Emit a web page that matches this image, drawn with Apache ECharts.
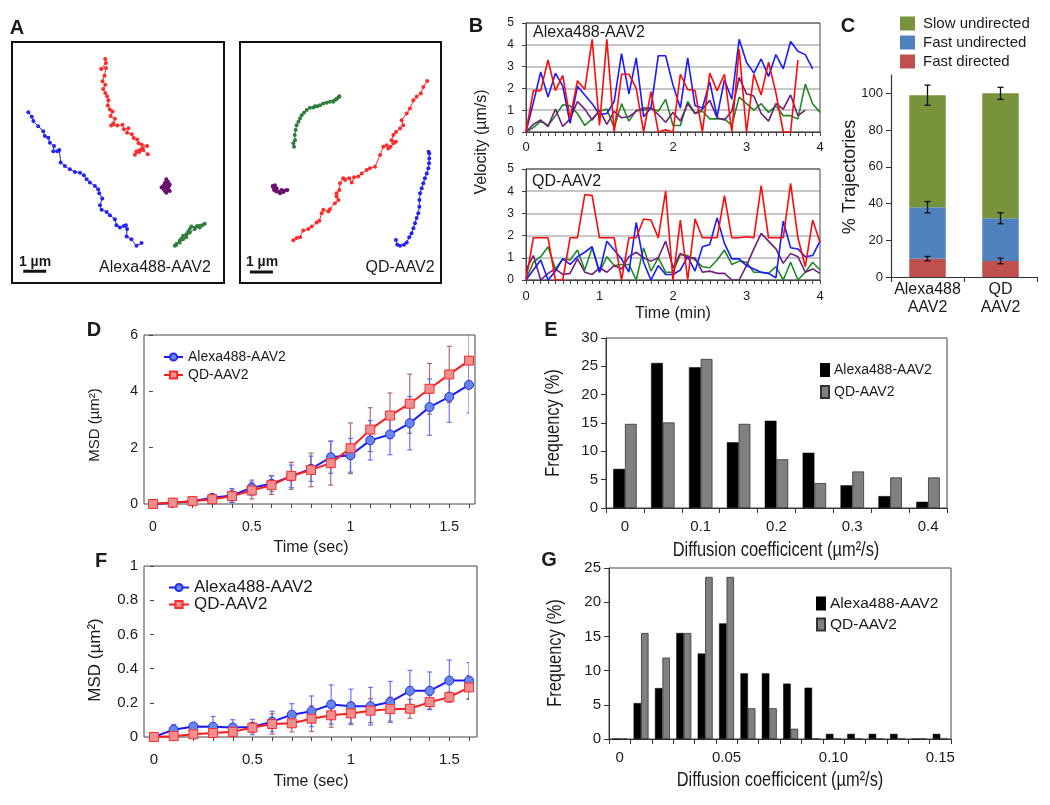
<!DOCTYPE html>
<html><head><meta charset="utf-8">
<script src="https://cdn.jsdelivr.net/npm/echarts@6/dist/echarts.min.js"></script>
<style>html,body{margin:0;padding:0;background:#fff}#c{width:1050px;height:805px}</style>
</head><body><div id="c"></div>
<script>
// ---------------- DATA ----------------
// Panel A: trajectories (µm, origin = lower-left corner of each box)
const a1Red = [[4.06,9.77],[4.09,9.59],[3.88,9.33],[4.09,9.38],[4.03,9.04],[3.94,8.80],[4.06,8.65],[3.97,8.46],[4.06,8.29],[4.14,8.14],[4.20,7.97],[4.17,7.74],[4.26,7.57],[4.38,7.48],[4.29,7.28],[4.48,7.16],[4.41,6.96],[4.32,6.87],[4.58,6.87],[4.81,6.90],[4.87,6.70],[5.07,6.75],[5.01,6.55],[5.22,6.49],[5.30,6.32],[5.45,6.26],[5.51,6.09],[5.65,6.03],[5.88,5.97],[5.68,5.88],[5.57,5.80],[5.42,5.75],[5.35,5.59],[5.54,5.71],[5.71,5.80],[5.91,5.62]];
const a1Blue = [[0.71,7.45],[0.86,7.25],[0.93,7.06],[1.14,6.84],[1.36,6.62],[1.43,6.41],[1.58,6.33],[1.65,6.12],[1.83,5.97],[1.80,5.75],[1.97,5.75],[2.06,5.80],[2.12,5.25],[2.30,5.10],[2.52,4.96],[2.74,4.84],[2.96,4.81],[3.13,4.70],[3.25,4.52],[3.39,4.38],[3.61,4.23],[3.75,4.09],[3.80,3.91],[3.93,3.68],[3.83,3.39],[3.90,3.19],[4.12,3.10],[4.26,2.96],[4.48,2.78],[4.55,2.52],[4.70,2.42],[4.87,2.49],[4.96,2.52],[5.01,2.35],[4.99,2.03],[5.20,1.91],[5.42,1.62],[5.64,1.74]];
const a1Purple = [[6.72,4.52],[6.80,4.41],[6.65,4.35],[6.87,4.30],[6.58,4.23],[6.72,4.16],[6.51,4.16],[6.80,4.09],[6.65,4.01],[6.87,4.01],[6.72,3.94],[6.61,4.09],[6.84,4.23],[6.70,4.41],[6.77,4.20]];
const a1Green = [[7.09,1.62],[7.16,1.70],[7.30,1.84],[7.38,1.94],[7.45,2.06],[7.59,2.13],[7.67,2.23],[7.74,2.35],[7.81,2.46],[7.96,2.41],[8.06,2.49],[8.17,2.42],[8.28,2.52],[8.39,2.58],[8.17,2.49],[7.96,2.35],[7.74,2.20],[7.59,1.99],[7.45,1.91],[7.30,1.77],[7.13,1.65]];
const a2Green = [[2.35,5.94],[2.32,6.09],[2.39,6.23],[2.38,6.45],[2.42,6.67],[2.46,6.88],[2.54,7.03],[2.61,7.17],[2.68,7.32],[2.78,7.42],[2.90,7.54],[3.04,7.64],[3.19,7.65],[3.26,7.71],[3.36,7.71],[3.48,7.75],[3.62,7.83],[3.77,7.86],[3.91,7.90],[4.06,7.94],[4.17,8.00],[4.28,8.09],[4.32,8.14],[4.20,8.04],[4.06,7.90]];
const a2Red = [[2.32,1.86],[2.46,1.96],[2.61,2.00],[2.75,2.29],[2.97,2.35],[3.12,2.46],[3.33,2.64],[3.45,2.72],[3.55,3.04],[3.62,3.19],[3.84,3.12],[3.91,3.22],[4.13,3.48],[4.28,3.62],[4.20,3.77],[4.20,3.91],[4.32,4.06],[4.35,4.35],[4.49,4.57],[4.57,4.49],[4.75,4.57],[4.86,4.38],[4.96,4.61],[5.14,4.64],[5.29,4.78],[5.51,4.93],[5.65,5.00],[5.87,5.07],[6.09,5.58],[6.23,5.94],[6.38,6.01],[6.45,5.87],[6.55,5.94],[6.67,6.09],[6.78,6.16],[6.59,6.23],[6.67,6.45],[6.78,6.59],[6.96,6.74],[7.10,6.88],[7.03,7.10],[7.25,7.39],[7.39,7.61],[7.54,7.97],[7.68,8.12],[7.86,8.26],[7.97,8.55],[8.14,8.81]];
const a2Blue = [[6.78,1.88],[6.84,1.67],[6.96,1.62],[7.13,1.67],[7.25,1.77],[7.36,2.00],[7.46,2.17],[7.54,2.39],[7.61,2.61],[7.68,2.83],[7.75,3.04],[7.80,3.33],[7.80,3.62],[7.83,3.91],[7.90,4.13],[7.97,4.35],[8.04,4.57],[8.12,4.78],[8.19,5.00],[8.22,5.22],[8.23,5.43],[8.23,5.65],[8.20,5.72]];
const a2Purple = [[1.42,4.23],[1.52,4.26],[1.59,4.13],[1.48,4.06],[1.67,3.99],[1.81,4.06],[1.96,4.03],[2.06,4.06],[1.88,3.97],[1.74,3.91],[1.57,3.99],[1.45,4.16]];
const scaleBarLength = 1; // µm

// Panel B: velocity (µm/s) vs time (min)
const bTime = [0,0.1,0.2,0.3,0.4,0.5,0.6,0.7,0.8,0.9,1.0,1.1,1.2,1.3,1.4,1.5,1.6,1.7,1.8,1.9,2.0,2.1,2.2,2.3,2.4,2.5,2.6,2.7,2.8,2.9,3.0,3.1,3.2,3.3,3.4,3.5,3.6,3.7,3.8,3.9,4.0];
const bTopRed = [0,1.9,1.9,3.3,1.9,2.6,0.6,2.35,1.95,4.25,0.3,4.25,0,2.65,2.65,2.0,0,1.85,0,0.1,0,2.65,1.95,1.9,0,2.7,1.9,2.65,0,3.8,0,2.65,1.7,3.2,1.8,0,0,3.3];
const bTopBlue = [0,1.35,2.75,1.6,2.7,2.1,0.4,2.1,1.7,1.3,0.8,0.85,1.4,3.6,1.75,3.4,0.7,1.1,3.5,3.5,2.15,1.1,3.4,1.2,1.1,2.3,0.7,2.4,1.5,4.25,3.2,2.7,3.35,2.55,3.55,2.9,4.15,3.7,3.55,2.9];
const bTopGreen = [0,0.2,0.5,0.3,0.75,1.25,1.2,0.85,0.3,0.6,0.95,1.05,0.2,1.3,0.5,1.0,1.0,1.1,0.95,1.5,0.3,0.3,1.4,0.85,0.95,0.6,0.6,0.6,0.3,1.6,1.3,1.0,1.3,0.9,1.2,0.75,0.75,0.6,2.2,1.3,0.9];
const bTopPurple = [0,0.35,0.55,0.25,1.05,0.25,0.6,1.4,1.05,0.55,1.0,0.35,0.95,0.65,0.7,0.95,1.1,1.1,0.8,0.45,0.9,0.5,1.3,0.85,1.05,1.45,0.65,0.55,0.95,2.5,1.75,1.65,0.85,0.5,1.3,1.05,1.7,0.75,1.0];
const bBotRed = [0,1.9,1.9,1.9,0,0,1.9,1.9,3.85,3.8,1.9,1.9,1.9,0,1.9,1.9,2.75,2.7,1.9,4.0,0,2.7,0,2.75,1.9,1.9,1.9,3.8,1.9,1.9,1.95,1.9,4.25,1.9,1.9,1.9,4.35,1.9,0.6,2.7,1.7];
const bBotBlue = [0,0.45,0.9,0,0.4,0.95,0.7,1.05,1.25,1.5,0.35,1.75,1.35,0.95,0.35,2.6,0.8,0,0.65,0.25,0.25,0.45,1.05,0.4,1.5,1.6,2.8,1.65,0.95,0.95,0.65,0.5,0.35,0.3,0.1,2.65,1.45,1.4,1.05,1.1,1.75];
const bBotGreen = [0,0.8,1.05,1.5,0.5,0.95,0.9,1.35,0.45,1.45,0.35,1.05,0.65,0.7,0.7,0,1.45,0.4,1.0,0.35,0.35,1.15,1.1,0.9,0.6,0.55,0.9,1.35,0.7,0.85,0.8,0.35,0.35,0.3,0.6,0,0.8,0,0.35,0.8,0.45];
const bBotPurple = [0.45,1.1,0,0.3,0.5,0.25,0.3,0.95,0.35,0.25,0.55,0.35,0.65,0.5,1.05,1.25,1.0,0.85,1.0,1.75,0.55,1.2,1.0,1.0,0.35,0.4,0.3,0.3,0,0,0.65,1.4,2.1,1.75,1.4,0.75,1.2,1.05,0.35,0.5,0.3];

// Panel C: % trajectories (stacked)
const cCats = ['Alexa488\nAAV2', 'QD\nAAV2'];
const cFastDirected = [10, 8.7];
const cFastUndirected = [28, 23.3];
const cSlowUndirected = [61, 68];
const cErrFastDirected = [1.2, 1.5];
const cErrFastUndirected = [3.1, 3.0];
const cErrSlowUndirected = [5.5, 3.3];
const cTicks = [0, 20, 40, 60, 80, 100];

// Panels D / F: MSD vs time (sec)
const dfTime = [0,0.1,0.2,0.3,0.4,0.5,0.6,0.7,0.8,0.9,1.0,1.1,1.2,1.3,1.4,1.5,1.6];
const dAlexa = [0,0.04,0.1,0.22,0.3,0.58,0.72,0.98,1.25,1.66,1.73,2.26,2.47,2.87,3.44,3.8,4.23];
const dAlexaErr = [0,0.02,0.05,0.12,0.25,0.27,0.28,0.4,0.45,0.57,0.6,0.7,0.72,0.95,1.0,0.9,1.0];
const dQD = [0,0.05,0.1,0.17,0.28,0.48,0.67,1.0,1.21,1.45,1.98,2.64,3.14,3.56,4.09,4.6,5.09];
const dQDErr = [0,0.02,0.04,0.12,0.22,0.3,0.33,0.48,0.6,0.78,0.9,0.78,0.8,1.05,0.9,1.0,1.0];
const fAlexa = [0,0.043,0.062,0.06,0.056,0.058,0.09,0.13,0.15,0.19,0.18,0.18,0.205,0.27,0.27,0.33,0.33];
const fAlexaErr = [0,0.03,0.02,0.06,0.045,0.045,0.06,0.065,0.09,0.115,0.1,0.11,0.12,0.12,0.11,0.12,0.105];
const fQD = [0,0.005,0.016,0.023,0.03,0.055,0.076,0.08,0.107,0.127,0.138,0.154,0.163,0.165,0.204,0.233,0.29];
const fQDErr = [0,0.01,0.01,0.015,0.02,0.03,0.06,0.05,0.075,0.07,0.065,0.07,0.07,0.055,0.04,0.03,0.07];
const dfLabelTicks = [0, 0.5, 1, 1.5];

// Panels E / G: frequency (%) histograms
const eBins = ['0','0.05','0.1','0.15','0.2','0.25','0.3','0.35','0.4'];
const eAlexa = [6.9,25.6,24.85,11.6,15.4,9.75,4.0,2.1,1.1];
const eQD = [14.85,15.1,26.3,14.85,8.6,4.4,6.45,5.4,5.4];
const gBins = ['0','0.01','0.02','0.03','0.04','0.05','0.06','0.07','0.08','0.09','0.10','0.11','0.12','0.13','0.14','0.15'];
const gAlexa = [0,5.25,7.45,15.5,12.5,16.9,9.6,9.6,8.1,7.5,0.75,0.75,0.75,0.75,0,0.75];
const gQD = [0,15.5,11.9,15.5,23.7,23.7,4.5,4.5,1.5,0,0,0,0,0,0,0];

// ---------------- BUILD ----------------
const FONT = "'Liberation Sans', Arial, sans-serif";
const TXT = '#1a1a1a';

function pair(xs, ys) { return ys.map((v, i) => [xs[i], v]); }
function errData(xs, m, e) { return m.map((v, i) => [xs[i], v - e[i], v + e[i]]); }
function makeErr(color, cap, width) {
  return function (params, api) {
    const x = api.value(0), lo = api.value(1), hi = api.value(2);
    const a = api.coord([x, hi]), b = api.coord([x, lo]);
    const st = { stroke: color, lineWidth: width };
    return { type: 'group', children: [
      { type: 'line', shape: { x1: a[0], y1: a[1], x2: b[0], y2: b[1] }, style: st },
      { type: 'line', shape: { x1: a[0] - cap, y1: a[1], x2: a[0] + cap, y2: a[1] }, style: st },
      { type: 'line', shape: { x1: b[0] - cap, y1: b[1], x2: b[0] + cap, y2: b[1] }, style: st }
    ] };
  };
}

const grid = [
  { left: 12, top: 42, width: 212, height: 241, show: true, borderColor: '#111', borderWidth: 2 },   // 0 A1
  { left: 240, top: 42, width: 201, height: 241, show: true, borderColor: '#111', borderWidth: 2 },  // 1 A2
  { left: 526, top: 23, width: 294, height: 109, show: true, borderColor: '#444', borderWidth: 1, z: 1 }, // 2 B top
  { left: 526, top: 169, width: 294, height: 111, show: true, borderColor: '#444', borderWidth: 1, z: 1 }, // 3 B bot
  { left: 891, top: 75, width: 146, height: 202 },  // 4 C
  { left: 144, top: 335, width: 331, height: 169, show: true, borderColor: '#444', borderWidth: 1 }, // 5 D frame
  { left: 153, top: 335, width: 316, height: 169 }, // 6 D data
  { left: 144, top: 566, width: 333, height: 171, show: true, borderColor: '#444', borderWidth: 1 }, // 7 F frame
  { left: 154, top: 566, width: 315, height: 171 }, // 8 F data
  { left: 606, top: 338, width: 341, height: 170, show: true, borderColor: '#444', borderWidth: 1 }, // 9 E
  { left: 609, top: 568, width: 342, height: 171, show: true, borderColor: '#444', borderWidth: 1 }  // 10 G
];

const hidden = (g, min, max) => ({ gridIndex: g, type: 'value', min: min, max: max, show: false });
const tickStyle = { show: true, length: 4, lineStyle: { color: '#444' } };

const bX = (g, margin) => ({ gridIndex: g, type: 'value', min: 0, max: 4, interval: 1,
  axisLine: { show: true, lineStyle: { color: '#444' } }, axisTick: tickStyle,
  minorTick: { show: true, splitNumber: 10, length: 4, lineStyle: { color: '#444' } },
  splitLine: { show: false },
  axisLabel: { fontSize: 13, color: TXT, fontFamily: FONT, margin: margin } });
const bY = (g) => ({ gridIndex: g, type: 'value', min: 0, max: 5, interval: 1,
  axisLine: { show: true, lineStyle: { color: '#444' } }, axisTick: tickStyle,
  splitLine: { show: true, lineStyle: { color: '#b4b4b4', width: 1.5 } },
  axisLabel: { fontSize: 12, color: TXT, fontFamily: FONT, margin: 12 } });

const dfX = (g, margin, fs) => ({ gridIndex: g, type: 'value', min: 0, max: 1.6, interval: 0.1,
  axisLine: { show: false }, axisTick: tickStyle, splitLine: { show: false },
  axisLabel: { fontSize: fs, color: TXT, fontFamily: FONT, margin: margin, customValues: dfLabelTicks,
    formatter: v => String(v) } });
const dfY = (g, max, interval, offset, fs) => ({ gridIndex: g, type: 'value', min: 0, max: max, interval: interval, offset: offset,
  axisLine: { show: false }, axisTick: tickStyle, splitLine: { show: false },
  axisLabel: { fontSize: fs, color: TXT, fontFamily: FONT, margin: 6 } });

const catX = (g, data, labelInterval) => ({ gridIndex: g, type: 'category', data: data,
  axisLine: { show: true, lineStyle: { color: '#333' } },
  axisTick: { show: true, interval: 0, alignWithLabel: false, length: 5, lineStyle: { color: '#333' } },
  axisLabel: { interval: labelInterval, fontSize: 15, color: TXT, fontFamily: FONT, margin: 11 } });
const freqY = (g, max) => ({ gridIndex: g, type: 'value', min: 0, max: max, interval: 5,
  axisLine: { show: true, lineStyle: { color: '#333' } }, axisTick: { show: true, length: 5, lineStyle: { color: '#333' } },
  splitLine: { show: false },
  axisLabel: { fontSize: 15, color: TXT, fontFamily: FONT, margin: 8 } });

const xAxis = [
  hidden(0, 0, 9.23), hidden(1, 0, 8.74),
  bX(2, 9), bX(3, 10),
  { gridIndex: 4, type: 'category', data: cCats,
    axisLine: { show: true, lineStyle: { color: '#333', width: 1.2 } },
    axisTick: { show: true, alignWithLabel: false, length: 5, lineStyle: { color: '#333' } },
    axisLabel: { interval: 0, fontSize: 16, lineHeight: 18, color: TXT, fontFamily: FONT, margin: 4 } },
  hidden(5, 0, 1), dfX(6, 16, 14),
  hidden(7, 0, 1), dfX(8, 15, 15),
  catX(9, eBins, 1), catX(10, gBins, 4)
];
const yAxis = [
  hidden(0, 0, 10.51), hidden(1, 0, 10.51),
  bY(2), bY(3),
  { gridIndex: 4, type: 'value', min: 0, max: 110,
    axisLine: { show: true, lineStyle: { color: '#333', width: 1.2 } },
    axisTick: { show: true, length: 5, customValues: cTicks, lineStyle: { color: '#333' } },
    splitLine: { show: false },
    axisLabel: { fontSize: 13, color: TXT, fontFamily: FONT, margin: 8, customValues: cTicks } },
  hidden(5, 0, 1), dfY(6, 6, 2, 9, 14),
  hidden(7, 0, 1), dfY(8, 1, 0.2, 10, 15),
  freqY(9, 30), freqY(10, 25)
];

const series = [];
// A
function traj(xi, data, color) {
  series.push({ type: 'line', xAxisIndex: xi, yAxisIndex: xi, data: data, symbol: 'circle', symbolSize: 4,
    showSymbol: true, lineStyle: { color: color, width: 1 }, itemStyle: { color: color }, silent: true });
}
traj(0, a1Red, '#ff2a2a'); traj(0, a1Blue, '#2323f5'); traj(0, a1Purple, '#6a1070'); traj(0, a1Green, '#2f7d3a');
traj(1, a2Green, '#2f7d3a'); traj(1, a2Red, '#ff2a2a'); traj(1, a2Blue, '#2323f5'); traj(1, a2Purple, '#6a1070');
// scale bars (1 µm)
const scaleBarAt = [[0.49, 0.51], [0.43, 0.48]];
[0, 1].forEach(i => {
  const s = scaleBarAt[i];
  series.push({ type: 'line', xAxisIndex: i, yAxisIndex: i, data: [s, [s[0] + scaleBarLength, s[1]]],
    showSymbol: false, lineStyle: { color: '#111', width: 3 }, silent: true });
});
// B
function vel(xi, vals, color) {
  series.push({ type: 'line', xAxisIndex: xi, yAxisIndex: xi, data: pair(bTime, vals), showSymbol: false,
    lineStyle: { color: color, width: 1.6 }, silent: true, z: 3 });
}
vel(2, bTopGreen, '#1f8a25'); vel(2, bTopPurple, '#6f1f7a'); vel(2, bTopBlue, '#1a1aff'); vel(2, bTopRed, '#ff0a0a');
vel(3, bBotGreen, '#1f8a25'); vel(3, bBotPurple, '#6f1f7a'); vel(3, bBotBlue, '#1a1aff'); vel(3, bBotRed, '#ff0a0a');
// C
const cStack = [
  { name: 'Fast directed', vals: cFastDirected, err: cErrFastDirected, color: '#c0504d' },
  { name: 'Fast undirected', vals: cFastUndirected, err: cErrFastUndirected, color: '#4f81bd' },
  { name: 'Slow undirected', vals: cSlowUndirected, err: cErrSlowUndirected, color: '#77933c' }
];
const cum = [0, 0];
const cErr = [];
cStack.forEach(s => {
  series.push({ type: 'bar', name: s.name, xAxisIndex: 4, yAxisIndex: 4, stack: 'c', data: s.vals,
    barWidth: '50%', itemStyle: { color: s.color } });
  s.vals.forEach((v, i) => { cum[i] += v; cErr.push([i, cum[i] - s.err[i], cum[i] + s.err[i]]); });
});
series.push({ type: 'custom', xAxisIndex: 4, yAxisIndex: 4, data: cErr, renderItem: makeErr('#111', 3, 1.3), z: 5, silent: true });
// D & F
function msd(xi, prefix, alexa, alexaErr, qd, qdErr) {
  series.push({ type: 'custom', xAxisIndex: xi, yAxisIndex: xi, data: errData(dfTime, qd, qdErr), clip: true,
    renderItem: makeErr('rgba(160,85,85,0.85)', 2.5, 1.2), z: 1, silent: true });
  series.push({ type: 'custom', xAxisIndex: xi, yAxisIndex: xi, data: errData(dfTime, alexa, alexaErr), clip: true,
    renderItem: makeErr('rgba(80,95,245,0.85)', 2.5, 1.2), z: 1, silent: true });
  series.push({ type: 'line', name: prefix + '|Alexa488-AAV2', xAxisIndex: xi, yAxisIndex: xi, data: pair(dfTime, alexa),
    symbol: 'circle', symbolSize: 9, showSymbol: true, lineStyle: { color: '#1a1aff', width: 2 },
    itemStyle: { color: '#6588ea', borderColor: '#2a2af0', borderWidth: 1 }, z: 3 });
  series.push({ type: 'line', name: prefix + '|QD-AAV2', xAxisIndex: xi, yAxisIndex: xi, data: pair(dfTime, qd),
    symbol: 'rect', symbolSize: 9, showSymbol: true, lineStyle: { color: '#ff1a1a', width: 2 },
    itemStyle: { color: '#ee9090', borderColor: '#ff2a2a', borderWidth: 1 }, z: 4 });
}
msd(6, 'D', dAlexa, dAlexaErr, dQD, dQDErr);
msd(8, 'F', fAlexa, fAlexaErr, fQD, fQDErr);
// E & G
function hist(xi, prefix, alexa, qd, gap) {
  series.push({ type: 'bar', name: prefix + '|Alexa488-AAV2', xAxisIndex: xi, yAxisIndex: xi, data: alexa,
    barGap: '0%', barCategoryGap: gap, itemStyle: { color: '#000', borderColor: '#000', borderWidth: 0.5 } });
  series.push({ type: 'bar', name: prefix + '|QD-AAV2', xAxisIndex: xi, yAxisIndex: xi, data: qd,
    barGap: '0%', barCategoryGap: gap, itemStyle: { color: '#808080', borderColor: '#333', borderWidth: 0.8 } });
}
hist(9, 'E', eAlexa, eQD, '38%');
hist(10, 'G', gAlexa, gQD, '30%');

const strip = n => n.split('|').pop();
const legend = [
  { data: ['Slow undirected', 'Fast undirected', 'Fast directed'], orient: 'vertical', left: 900, top: 16, padding: 0,
    itemWidth: 15, itemHeight: 14, itemGap: 4, selectedMode: false, icon: 'rect',
    textStyle: { fontSize: 15, lineHeight: 15, color: TXT, fontFamily: FONT, padding: [0, 0, 0, 3] } },
  { data: ['D|Alexa488-AAV2', 'D|QD-AAV2'], orient: 'vertical', left: 163, top: 349, padding: 0,
    itemWidth: 19, itemHeight: 9, itemGap: 2, selectedMode: false, formatter: strip,
    textStyle: { fontSize: 14, lineHeight: 16, color: TXT, fontFamily: FONT } },
  { data: ['F|Alexa488-AAV2', 'F|QD-AAV2'], orient: 'vertical', left: 168, top: 579, padding: 0,
    itemWidth: 20, itemHeight: 9, itemGap: 0, selectedMode: false, formatter: strip,
    textStyle: { fontSize: 17, lineHeight: 17, color: TXT, fontFamily: FONT } },
  { data: ['E|Alexa488-AAV2', 'E|QD-AAV2'], orient: 'vertical', left: 820, top: 361, padding: 0,
    itemWidth: 8, itemHeight: 12, itemGap: 4, selectedMode: false, formatter: strip, icon: 'rect',
    textStyle: { fontSize: 14, lineHeight: 18, color: TXT, fontFamily: FONT } },
  { data: ['G|Alexa488-AAV2', 'G|QD-AAV2'], orient: 'vertical', left: 816, top: 594, padding: 0,
    itemWidth: 8, itemHeight: 12, itemGap: 2, selectedMode: false, formatter: strip, icon: 'rect',
    textStyle: { fontSize: 15.5, lineHeight: 19, color: TXT, fontFamily: FONT } }
];

function txt(s, x, y, size, opts) {
  opts = opts || {};
  const sx = opts.narrow ? 0.82 : 1;
  return { type: 'text', x: x, y: y, rotation: opts.rot ? Math.PI / 2 : 0, scaleX: sx, silent: true,
    style: { text: s, fontSize: size, fontFamily: FONT, fontWeight: opts.bold ? 'bold' : 'normal',
      fill: TXT, align: opts.align || 'center', verticalAlign: 'middle' } };
}
const graphic = [
  txt('A', 17, 28, 20, { bold: true }), txt('B', 476, 26, 20, { bold: true }), txt('C', 848, 26, 20, { bold: true }),
  txt('D', 94, 330, 20, { bold: true }), txt('E', 551, 330, 20, { bold: true }),
  txt('F', 101, 561, 20, { bold: true }), txt('G', 549, 560, 20, { bold: true }),
  txt('1 µm', 35, 262, 14, { bold: true }), txt('1 µm', 262, 262, 14, { bold: true }),
  txt('Alexa488-AAV2', 155, 268, 16), txt('QD-AAV2', 400, 268, 16),
  txt('Alexa488-AAV2', 533, 33, 16, { align: 'left' }), txt('QD-AAV2', 532, 182, 16, { align: 'left' }),
  txt('Velocity (µm/s)', 482, 142, 16, { rot: true }), txt('Time (min)', 673, 314, 16),
  txt('% Trajectories', 850, 177, 18, { rot: true }),
  txt('MSD (µm²)', 95, 425, 15, { rot: true }), txt('Time (sec)', 311, 548, 16),
  txt('MSD (µm²)', 95, 660, 17, { rot: true }), txt('Time (sec)', 311, 782, 16),
  txt('Frequency (%)', 553, 423, 20, { rot: true, narrow: true }),
  txt('Diffusion coefficicent (µm²/s)', 776, 550, 20, { narrow: true }),
  txt('Frequency (%)', 555, 653, 20, { rot: true, narrow: true }),
  txt('Diffusion coefficicent (µm²/s)', 780, 780, 20, { narrow: true })
];

const chart = echarts.init(document.getElementById('c'), null, { renderer: 'canvas' });
chart.setOption({ animation: false, backgroundColor: '#fff', textStyle: { fontFamily: FONT },
  grid: grid, xAxis: xAxis, yAxis: yAxis, series: series, legend: legend, graphic: graphic });
</script></body></html>
